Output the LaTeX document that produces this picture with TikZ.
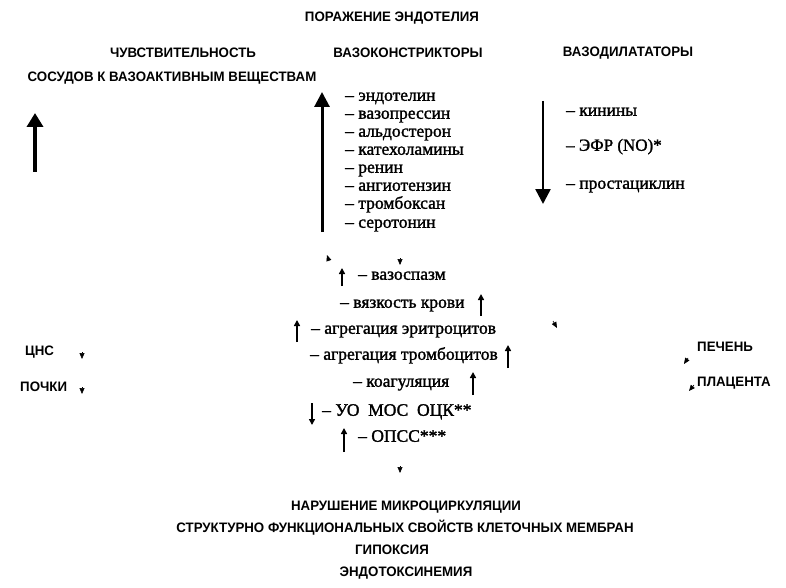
\documentclass[tikz,border=0pt]{standalone}
\usepackage{fontspec}
\setmainfont{Liberation Serif}
\newfontfamily\hdfont[FakeStretch=0.97, Ligatures=TeX]{Liberation Sans Bold}
\newfontfamily\itmfont[FakeBold=1.5, Ligatures=TeX]{Liberation Serif}
\usetikzlibrary{arrows.meta}
\begin{document}
\begin{tikzpicture}[x=1pt, y=-1pt, every node/.style={inner sep=0pt},
    hd/.style={font=\hdfont\fontsize{13.7}{15}\selectfont},
    itm/.style={anchor=west, text height=1.6ex, text depth=0.4ex, font=\itmfont\fontsize{17.5}{19}\selectfont},
    thick up/.style={-{Triangle[length=15pt,width=15pt]}, line width=3pt},
    small up/.style={-{Triangle[length=6pt,width=6pt]}, line width=1.5pt},
    stub/.style={-{Triangle[length=6pt,width=5pt]}, line width=0.6pt}]
    \useasboundingbox (0,0) rectangle (786,588);

    \node[hd] (top) at (392, 18) {ПОРАЖЕНИЕ ЭНДОТЕЛИЯ};
    \node[hd] (sens) at (183, 53) {ЧУВСТВИТЕЛЬНОСТЬ};
    \node[hd] (sens2) at (172, 78) {СОСУДОВ К ВАЗОАКТИВНЫМ ВЕЩЕСТВАМ};
    \node[hd] (vc) at (408, 53) {ВАЗОКОНСТРИКТОРЫ};
    \node[hd] (vd) at (628, 53) {ВАЗОДИЛАТАТОРЫ};

    % чувствительность повышена
    \coordinate (s0) at (35, 172); \coordinate (s1) at (35, 113);
    \draw[-{Triangle[length=14pt,width=16pt]}, line width=4pt] (s0) -- (s1);

    % вазоконстрикторы
    \coordinate (c0) at (322, 232); \coordinate (c1) at (322, 92);
    \draw[thick up] (c0) -- (c1);
    \node[itm] (c-a) at (345, 98) {-- эндотелин};
    \node[itm] (c-b) at (345, 116) {-- вазопрессин};
    \node[itm] (c-c) at (345, 134) {-- альдостерон};
    \node[itm] (c-d) at (345, 152) {-- катехоламины};
    \node[itm] (c-e) at (345, 170) {-- ренин};
    \node[itm] (c-f) at (345, 188) {-- ангиотензин};
    \node[itm] (c-g) at (345, 206) {-- тромбоксан};
    \node[itm] (c-h) at (345, 225) {-- серотонин};

    % вазодилататоры
    \coordinate (d0) at (543, 101); \coordinate (d1) at (543, 204);
    \draw[-{Triangle[length=15pt,width=15pt]}, line width=2.5pt] (d0) -- (d1);
    \node[itm] (d-a) at (566, 113) {-- кинины};
    \node[itm, font=\itmfont\fontsize{17}{19}\selectfont] (d-b) at (566, 148) {-- ЭФР (NO)*};
    \node[itm] (d-c) at (566, 186) {-- простациклин};

    % сдвиги в крови
    \node[itm] (m1) at (358, 277) {-- вазоспазм};
    \node[itm] (m2) at (340, 305) {-- вязкость крови};
    \node[itm] (m3) at (311, 331) {-- агрегация эритроцитов};
    \node[itm] (m4) at (310, 357) {-- агрегация тромбоцитов};
    \node[itm] (m5) at (353, 384) {-- коагуляция};
    \node[itm] (m6) at (322, 413) {-- УО\ \ МОС\ \ ОЦК**};
    \node[itm] (m7) at (358, 439) {-- ОПСС***};
    \draw[small up] ([xshift=-16pt, yshift=-9pt]m1.west) -- ([xshift=-16pt, yshift=9pt]m1.west);
    \draw[small up] ([xshift=141pt, yshift=-11pt]m2.west) -- ([xshift=141pt, yshift=11pt]m2.west);
    \draw[small up] ([xshift=-14pt, yshift=-11pt]m3.west) -- ([xshift=-14pt, yshift=11pt]m3.west);
    \draw[small up] ([xshift=198pt, yshift=-11pt]m4.west) -- ([xshift=198pt, yshift=12pt]m4.west);
    \draw[small up] ([xshift=120pt, yshift=-11pt]m5.west) -- ([xshift=120pt, yshift=12pt]m5.west);
    \draw[small up] ([xshift=-10pt, yshift=10pt]m6.west) -- ([xshift=-10pt, yshift=-12pt]m6.west); % вниз
    \draw[small up] ([xshift=-14pt, yshift=-13pt]m7.west) -- ([xshift=-14pt, yshift=11pt]m7.west);

    % органы
    \node[hd, anchor=west] (cns) at (25, 352) {ЦНС};
    \node[hd, anchor=west] (kid) at (20, 387) {ПОЧКИ};
    \node[hd, anchor=west] (liv) at (697, 347) {ПЕЧЕНЬ};
    \node[hd, anchor=west] (pla) at (697, 383) {ПЛАЦЕНТА};

    % остатки стрелок
    \coordinate (h1) at (329, 261); \coordinate (h1e) at (327, 255);
    \coordinate (h2) at (400, 258); \coordinate (h2e) at (400, 265);
    \coordinate (h3) at (553, 321); \coordinate (h3e) at (557, 328);
    \coordinate (h4) at (82, 352); \coordinate (h4e) at (82, 359);
    \coordinate (h5) at (82, 387); \coordinate (h5e) at (82, 394);
    \coordinate (h6) at (688, 358); \coordinate (h6e) at (684, 364);
    \coordinate (h7) at (694, 385); \coordinate (h7e) at (689, 391);
    \coordinate (h8) at (400, 466); \coordinate (h8e) at (400, 473);
    \foreach \a/\b in {h1/h1e, h2/h2e, h3/h3e, h4/h4e, h5/h5e, h6/h6e, h7/h7e, h8/h8e}
        \draw[stub] (\a) -- (\b);

    \node[hd] (res1) at (406, 507) {НАРУШЕНИЕ МИКРОЦИРКУЛЯЦИИ};
    \node[hd] (res2) at (405, 528) {СТРУКТУРНО ФУНКЦИОНАЛЬНЫХ СВОЙСТВ КЛЕТОЧНЫХ МЕМБРАН};
    \node[hd] (res3) at (392, 550) {ГИПОКСИЯ};
    \node[hd] (res4) at (406, 573) {ЭНДОТОКСИНЕМИЯ};
\end{tikzpicture}
\end{document}
